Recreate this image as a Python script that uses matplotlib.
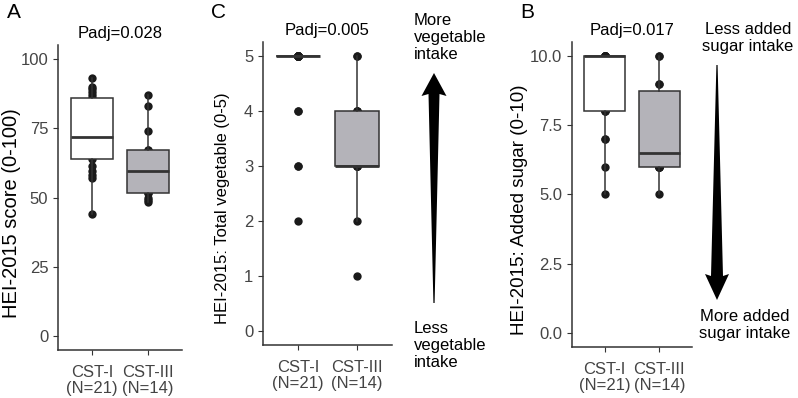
import matplotlib

matplotlib.use("Agg")
import matplotlib.pyplot as plt
from matplotlib.patches import Polygon
import numpy as np

plt.rcParams["font.family"] = ["Liberation Sans", "DejaVu Sans"]

# ── data ──────────────────────────────────────────
groups = ["CST-I\n(N=21)", "CST-III\n(N=14)"]

total_cst1 = [44, 57, 58, 59.5, 61.5, 64, 66, 68, 70, 71, 72,
              74, 78, 80, 83, 86, 87, 88, 89, 90, 93]
total_cst3 = [48.5, 49, 50, 51.5, 51.5, 55, 58, 61, 64, 67, 67, 74, 83, 87]

veg_cst1 = [2, 3, 3, 4, 4] + [5] * 16
veg_cst3 = [1, 2, 3, 3, 3, 3, 3, 3, 4, 4, 4, 4, 5, 5]

sugar_cst1 = [5, 6, 7, 7, 8, 8, 8, 9, 9, 10] + [10] * 11
sugar_cst3 = [5, 6, 6, 6, 6, 6, 6, 7, 8, 8, 9, 9, 10, 10]

padj = ["Padj=0.028", "Padj=0.005", "Padj=0.017"]

W, H = 798, 398
EDGE = "#333333"
GREY = "#b4b3b9"
TICK = "#444444"


def fx(x):
    return x / W


def fy(y):
    return 1 - y / H


def panel(fig, box_px, data, ylim, yticks, ytl, title, ylabel, ylabel_size, ylabel_x):
    left, top, right, bottom = box_px
    ax = fig.add_axes([fx(left), fy(bottom), (right - left) / W, (bottom - top) / H])
    for i, vals in enumerate(data):
        ax.scatter(np.full(len(vals), i + 1), vals, s=36, color="#1a1a1a",
                   zorder=1, linewidths=0)
    bp = ax.boxplot(data, positions=[1, 2], widths=0.75, patch_artist=True,
                    showfliers=False, showcaps=False, whis=1.5,
                    medianprops=dict(color=EDGE, linewidth=2.0),
                    whiskerprops=dict(color=EDGE, linewidth=1.1),
                    boxprops=dict(edgecolor=EDGE, linewidth=1.1))
    for patch, fc in zip(bp["boxes"], ["white", GREY]):
        patch.set_facecolor(fc)
        patch.set_zorder(2)
    for ln in bp["whiskers"] + bp["medians"]:
        ln.set_zorder(2)
    ax.set_xlim(0.4, 2.6)
    ax.set_ylim(*ylim)
    ax.set_yticks(yticks)
    ax.set_yticklabels(ytl)
    ax.set_xticks([1, 2])
    ax.set_xticklabels(groups, linespacing=1.1)
    ax.tick_params(axis="both", labelsize=12, labelcolor=TICK, color=EDGE,
                   length=3.5, width=0.8)
    ax.tick_params(axis="x", pad=7)
    for s in ["top", "right"]:
        ax.spines[s].set_visible(False)
    for s in ["left", "bottom"]:
        ax.spines[s].set_color(EDGE)
        ax.spines[s].set_linewidth(1.1)
    ax.set_title(title, fontsize=12, pad=5)
    ax.set_ylabel(ylabel, fontsize=ylabel_size)
    ax.yaxis.set_label_coords((ylabel_x - left) / (right - left), 0.45)
    ax.yaxis.label.set_verticalalignment("center")
    return ax


fig = plt.figure(figsize=(W / 100, H / 100), dpi=100)

panel(fig, (58, 45, 182, 350), [total_cst1, total_cst3], (-5, 105),
      [0, 25, 50, 75, 100], ["0", "25", "50", "75", "100"],
      padj[0], "HEI-2015 score (0-100)", 14.5, 12)
panel(fig, (263, 42, 392, 345), [veg_cst1, veg_cst3], (-0.25, 5.25),
      [0, 1, 2, 3, 4, 5], ["0", "1", "2", "3", "4", "5"],
      padj[1], "HEI-2015: Total vegetable (0-5)", 12, 223)
panel(fig, (572, 42, 692, 347), [sugar_cst1, sugar_cst3], (-0.5, 10.5),
      [0, 2.5, 5, 7.5, 10], ["0.0", "2.5", "5.0", "7.5", "10.0"],
      padj[2], "HEI-2015: Added sugar (0-10)", 13.5, 520)

# panel letters
for letter, x in [("A", 7), ("C", 211), ("B", 520)]:
    fig.text(fx(x), fy(3), letter, fontsize=15, ha="left", va="top")


# tapered arrows
def arrow(x, y_tail, y_tip, head_len=21, head_w=25, shaft_w=11):
    d = 1 if y_tip > y_tail else -1
    yb = y_tip - d * head_len
    pts = [(x, y_tip), (x + head_w / 2, yb - d * 2), (x + shaft_w / 2, yb),
           (x + 0.6, y_tail), (x - 0.6, y_tail), (x - shaft_w / 2, yb),
           (x - head_w / 2, yb - d * 2)]
    fig.patches.append(Polygon([(fx(a), fy(b)) for a, b in pts], closed=True,
                               transform=fig.transFigure, facecolor="black",
                               edgecolor="none"))


arrow(434, 303, 73)
arrow(717, 65, 300, head_len=24, head_w=24, shaft_w=12)

kw = dict(fontsize=12, va="top", linespacing=1.15)
fig.text(fx(414), fy(13), "More\nvegetable\nintake", ha="left", **kw)
fig.text(fx(414), fy(321), "Less\nvegetable\nintake", ha="left", **kw)
fig.text(fx(748), fy(22), "Less added\nsugar intake", ha="center", **kw)
fig.text(fx(745), fy(309), "More added\nsugar intake", ha="center", **kw)

fig.savefig("out.png", dpi=100)
